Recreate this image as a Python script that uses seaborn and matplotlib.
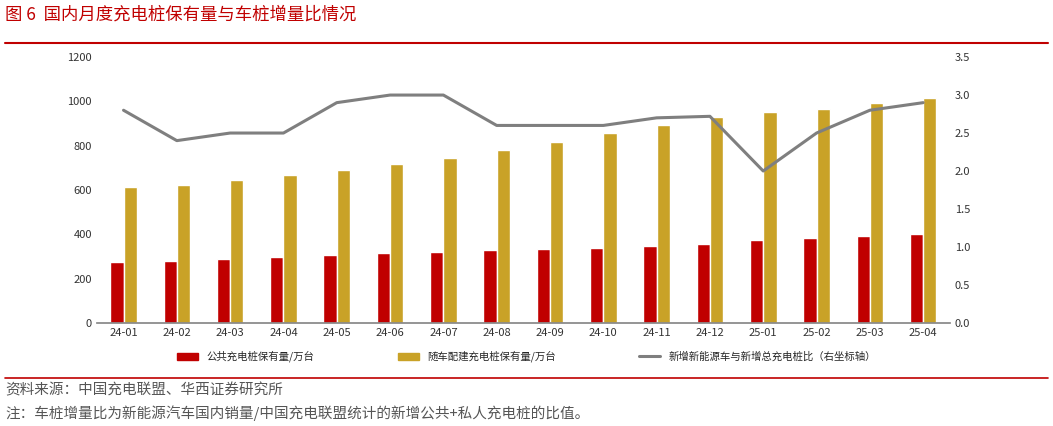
import matplotlib
matplotlib.use("Agg")
import matplotlib.pyplot as plt
import seaborn as sns
import pandas as pd
import numpy as np
from matplotlib.lines import Line2D

months = ["24-01", "24-02", "24-03", "24-04", "24-05", "24-06", "24-07", "24-08",
          "24-09", "24-10", "24-11", "24-12", "25-01", "25-02", "25-03", "25-04"]
public = [275, 280, 289, 298, 307, 316, 320, 329, 334, 338, 347, 357, 375, 384, 392, 401]
private = [613, 622, 645, 668, 690, 717, 744, 780, 816, 857, 893, 929, 951, 965, 992, 1015]
ratio = [2.8, 2.4, 2.5, 2.5, 2.9, 3.0, 3.0, 2.6, 2.6, 2.6, 2.7, 2.72, 2.0, 2.5, 2.8, 2.9]

sns.set_theme(style="white")
plt.rcParams['font.family'] = ['Noto Sans CJK SC', 'DejaVu Sans']

RED = "#c00000"
GOLD = "#c9a227"
GREY = "#7f7f7f"

df = pd.DataFrame({"month": months * 2,
                   "value": public + private,
                   "series": ["公共充电桩保有量/万台"] * 16 + ["随车配建充电桩保有量/万台"] * 16})

fig = plt.figure(figsize=(10.53, 4.26), dpi=100)
ax = fig.add_axes([0.092, 0.242, 0.81, 0.624])
sns.barplot(data=df, x="month", y="value", hue="series", palette=[RED, GOLD],
            width=0.5, saturation=1, ax=ax, legend=False)
ax.set_ylim(0, 1200)
ax.set_yticks(range(0, 1201, 200))
ax.set_xlabel("")
ax.set_ylabel("")
ax.tick_params(labelsize=8, colors="#333333", length=0)
for s in ["top", "right", "left"]:
    ax.spines[s].set_visible(False)
ax.spines["bottom"].set_color("#888888")
ax.set_xlim(-0.5, 15.5)

ax2 = ax.twinx()
ax2.plot(range(16), ratio, color=GREY, lw=2.2)
ax2.set_ylim(0, 3.5)
ax2.set_yticks(np.arange(0, 3.51, 0.5))
ax2.set_yticklabels([f"{v:.1f}" for v in np.arange(0, 3.51, 0.5)])
ax2.tick_params(labelsize=8, colors="#333333", length=0)
for s in ["top", "right", "left", "bottom"]:
    ax2.spines[s].set_visible(False)
ax2.grid(False)

handles = [plt.Rectangle((0, 0), 1, 1, color=RED), plt.Rectangle((0, 0), 1, 1, color=GOLD),
           Line2D([0], [0], color=GREY, lw=2.2)]
labels = ["公共充电桩保有量/万台", "随车配建充电桩保有量/万台", "新增新能源车与新增总充电桩比（右坐标轴）"]
fig.legend(handles, labels, loc="center", bbox_to_anchor=(0.5, 0.163), ncol=3, frameon=False,
           fontsize=7.5, columnspacing=8, handlelength=2)

fig.text(0.005, 0.965, "图 6  国内月度充电桩保有量与车桩增量比情况", fontsize=12.5, color=RED, va="center")
fig.add_artist(Line2D([0.005, 0.995], [0.9, 0.9], color=RED, lw=1.5))
fig.add_artist(Line2D([0.005, 0.995], [0.113, 0.113], color=RED, lw=1.2))
fig.text(0.005, 0.085, "资料来源：中国充电联盟、华西证券研究所", fontsize=10.5, color="#555555", va="center")
fig.text(0.005, 0.03, "注：车桩增量比为新能源汽车国内销量/中国充电联盟统计的新增公共+私人充电桩的比值。",
         fontsize=10.5, color="#555555", va="center")

fig.savefig("out.png", dpi=100)
